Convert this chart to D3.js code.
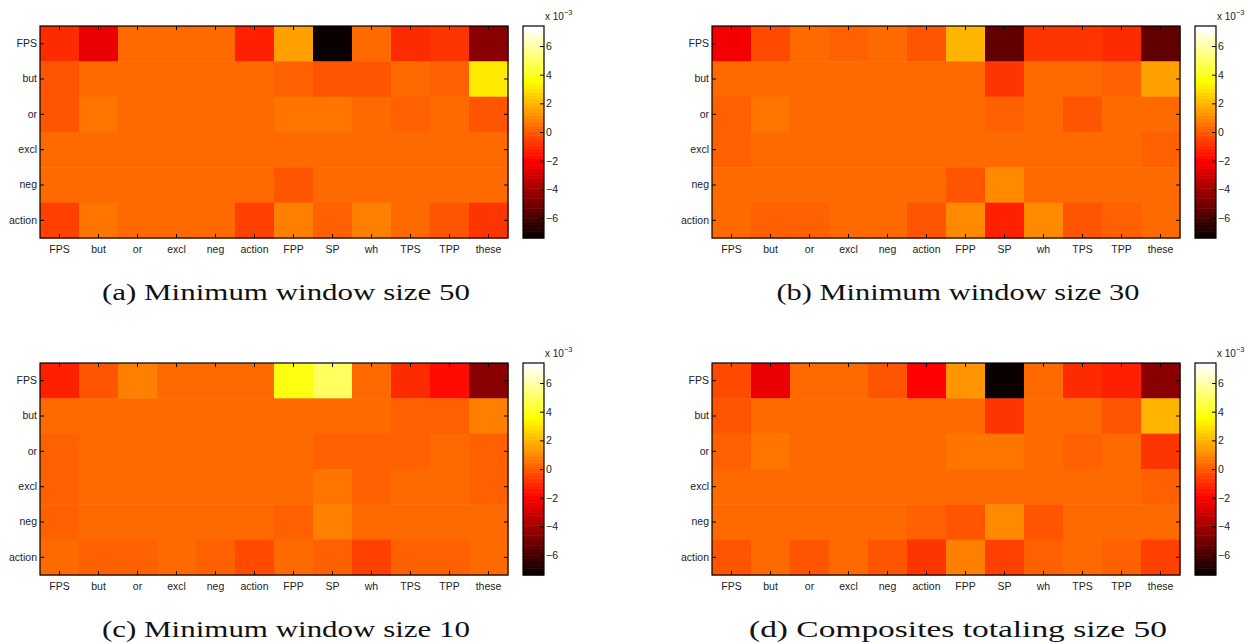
<!DOCTYPE html>
<html>
<head>
<meta charset="utf-8">
<script src="https://cdn.jsdelivr.net/npm/d3@7"></script>
<style>
  body { margin: 0; background: #fff; }
  svg { display: block; }
  .tick text { font-family: "Liberation Sans", Arial, sans-serif; font-size: 10.5px; fill: #222; }
  .caption { font-family: "Liberation Serif", "DejaVu Serif", serif; fill: #111; }
</style>
</head>
<body>
<div id="chart"></div>
<script>
const rowLabels = ["FPS", "but", "or", "excl", "neg", "action"];
const colLabels = ["FPS", "but", "or", "excl", "neg", "action", "FPP", "SP", "wh", "TPS", "TPP", "these"];
const cbTicks = [-6, -4, -2, 0, 2, 4, 6];
const cRange = [-7.4, 7.4]; // x 10^-3

// values x 10^-3, one row per rowLabels entry
const win50 = [
  [-1.05, -2.35, 0.46, 0.24, 0.24, -1.3, 1.4, -7.2, 0.46, -1.05, -0.8, -4.4],
  [-0.1, 0.24, 0.24, 0.24, 0.24, 0.24, 0.0, -0.2, -0.2, 0.46, 0.1, 3.2],
  [-0.1, 0.5, 0.24, 0.24, 0.24, 0.24, 0.5, 0.6, 0.24, 0.0, 0.24, -0.1],
  [0.24, 0.24, 0.24, 0.24, 0.24, 0.24, 0.24, 0.4, 0.24, 0.24, 0.24, 0.24],
  [0.24, 0.24, 0.24, 0.24, 0.24, 0.24, -0.2, 0.24, 0.24, 0.24, 0.24, 0.24],
  [-0.6, 0.6, 0.24, 0.24, 0.24, -0.6, 0.8, 0.1, 0.8, 0.24, -0.2, -0.8]
];
const win30 = [
  [-2.2, -0.45, 0.35, 0.05, 0.35, -0.2, 1.98, -5.45, -0.7, -0.8, -1.1, -5.5],
  [0.24, 0.24, 0.24, 0.24, 0.24, 0.24, 0.46, -0.7, 0.24, 0.24, 0.05, 1.5],
  [0.1, 0.5, 0.24, 0.24, 0.24, 0.24, 0.4, 0.05, 0.24, -0.1, 0.24, 0.46],
  [0.05, 0.24, 0.24, 0.24, 0.24, 0.24, 0.24, 0.46, 0.24, 0.24, 0.24, 0.1],
  [0.24, 0.24, 0.24, 0.24, 0.24, 0.24, -0.2, 0.93, 0.46, 0.24, 0.24, 0.24],
  [0.24, 0.05, 0.05, 0.24, 0.24, -0.2, 1.15, -1.3, 0.93, -0.2, 0.0, 0.24]
];
const win10 = [
  [-1.3, -0.2, 0.8, 0.24, 0.24, 0.24, 3.9, 4.9, 0.46, -1.1, -1.65, -4.4],
  [0.24, 0.24, 0.24, 0.24, 0.24, 0.24, 0.24, 0.24, 0.46, 0.1, 0.1, 0.8],
  [0.05, 0.24, 0.24, 0.24, 0.24, 0.24, 0.24, 0.0, 0.0, 0.0, 0.24, 0.05],
  [0.05, 0.24, 0.24, 0.24, 0.24, 0.24, 0.24, 0.6, 0.05, 0.24, 0.24, 0.1],
  [0.05, 0.24, 0.24, 0.24, 0.24, 0.24, 0.05, 0.8, 0.46, 0.24, 0.24, 0.24],
  [0.24, 0.0, 0.0, 0.24, 0.05, -0.45, 0.46, 0.0, -0.6, 0.1, 0.1, 0.24]
];
const comp50 = [
  [-0.45, -2.35, 0.46, 0.24, -0.2, -1.85, 1.3, -7.2, 0.46, -1.05, -1.3, -4.6],
  [-0.1, 0.24, 0.24, 0.24, 0.24, 0.24, 0.24, -0.7, 0.4, 0.24, -0.1, 1.85],
  [0.05, 0.5, 0.24, 0.24, 0.24, 0.24, 0.5, 0.6, 0.24, 0.0, 0.24, -0.7],
  [0.24, 0.24, 0.24, 0.24, 0.24, 0.24, 0.24, 0.24, 0.24, 0.24, 0.24, 0.05],
  [0.24, 0.24, 0.24, 0.24, 0.24, 0.05, -0.2, 0.93, -0.2, 0.24, 0.24, 0.24],
  [-0.2, 0.24, -0.1, 0.24, -0.1, -0.7, 0.8, -0.6, 0.05, 0.24, 0.0, -0.6]
];

const panels = [
  {values: win50, caption: "(a) Minimum window size 50", left: 40, top: 26, capW: 368},
  {values: win30, caption: "(b) Minimum window size 30", left: 712, top: 26, capW: 363},
  {values: win10, caption: "(c) Minimum window size 10", left: 40, top: 363, capW: 368},
  {values: comp50, caption: "(d) Composites totaling size 50", left: 712, top: 363, capW: 418}
];

// MATLAB "hot", 64 levels
const nLevels = 64;
const hotMap = d3.range(nLevels).map(i => {
  const n = Math.round(3 / 8 * nLevels);
  const r = Math.min(1, (i + 1) / n);
  const g = Math.min(1, Math.max(0, (i + 1 - n) / n));
  const b = Math.max(0, (i + 1 - 2 * n) / (nLevels - 2 * n));
  return d3.rgb(r * 255, g * 255, b * 255).toString();
});
const colorIndex = d3.scaleQuantize().domain(cRange).range(d3.range(nLevels));
const color = v => hotMap[colorIndex(Math.max(cRange[0], Math.min(cRange[1], v)))];

const W = 1245, H = 644;
const plotW = 468, plotH = 212;
const cbGap = 15, cbW = 21;
const tickLen = 4;

const svg = d3.select("#chart").append("svg")
  .attr("width", W)
  .attr("height", H);

panels.forEach(p => {
  const g = svg.append("g").attr("transform", `translate(${p.left},${p.top})`);

  const x = d3.scaleBand().domain(colLabels).range([0, plotW]);
  const y = d3.scaleBand().domain(rowLabels).range([0, plotH]);

  // cells
  rowLabels.forEach((r, ri) => {
    g.selectAll(null)
      .data(p.values[ri])
      .enter()
      .append("rect")
      .attr("x", (d, ci) => x(colLabels[ci]))
      .attr("y", y(r))
      .attr("width", x.bandwidth() + 0.5)
      .attr("height", y.bandwidth() + 0.5)
      .attr("fill", d => color(d));
  });

  // axes, ticks inward on all sides
  const xb = g.append("g").attr("transform", `translate(0,${plotH})`)
    .call(d3.axisBottom(x).tickSizeInner(-tickLen).tickSizeOuter(0).tickPadding(8));
  const xt = g.append("g")
    .call(d3.axisTop(x).tickSizeInner(-tickLen).tickSizeOuter(0).tickFormat(""));
  const yl = g.append("g")
    .call(d3.axisLeft(y).tickSizeInner(-tickLen).tickSizeOuter(0).tickPadding(3));
  const yr = g.append("g").attr("transform", `translate(${plotW},0)`)
    .call(d3.axisRight(y).tickSizeInner(-tickLen).tickSizeOuter(0).tickFormat(""));
  [xb, xt, yl, yr].forEach(a => {
    a.select(".domain").remove();
    a.selectAll("line").attr("stroke", "#000");
  });
  g.append("rect")
    .attr("width", plotW).attr("height", plotH)
    .attr("fill", "none").attr("stroke", "#000").attr("stroke-width", 1.2);

  // colorbar
  const cb = g.append("g").attr("transform", `translate(${plotW + cbGap},0)`);
  const cy = d3.scaleLinear().domain(cRange).range([plotH, 0]);
  const step = (cRange[1] - cRange[0]) / nLevels;
  cb.selectAll("rect.level")
    .data(hotMap)
    .enter()
    .append("rect")
    .attr("class", "level")
    .attr("x", 0)
    .attr("width", cbW)
    .attr("y", (d, i) => cy(cRange[0] + (i + 1) * step))
    .attr("height", (d, i) => cy(cRange[0] + i * step) - cy(cRange[0] + (i + 1) * step) + 0.5)
    .attr("fill", d => d);
  const cbAxis = cb.append("g").attr("transform", `translate(${cbW},0)`)
    .call(d3.axisRight(cy).tickValues(cbTicks).tickSizeInner(-tickLen).tickSizeOuter(0).tickPadding(2)
      .tickFormat(d => d < 0 ? "\u2212" + Math.abs(d) : d));
  cbAxis.select(".domain").remove();
  cbAxis.selectAll("line").attr("stroke", "#000");
  cb.append("rect")
    .attr("width", cbW).attr("height", plotH)
    .attr("fill", "none").attr("stroke", "#000").attr("stroke-width", 1.2);
  const exp = cb.append("text")
    .attr("x", cbW + 1).attr("y", -6)
    .attr("font-family", "Liberation Sans, Arial, sans-serif")
    .attr("font-size", 10)
    .attr("fill", "#222");
  exp.append("tspan").text("x 10");
  exp.append("tspan").attr("dy", -5).attr("font-size", 7.5).text("\u22123");

  // caption (Computer Modern is wider than Times, so stretch to the measured width)
  svg.append("text")
    .attr("class", "caption")
    .attr("x", p.left + 246)
    .attr("y", p.top + 274)
    .attr("text-anchor", "middle")
    .attr("font-size", 23.5)
    .attr("textLength", p.capW)
    .attr("lengthAdjust", "spacingAndGlyphs")
    .text(p.caption);
});
</script>
</body>
</html>
